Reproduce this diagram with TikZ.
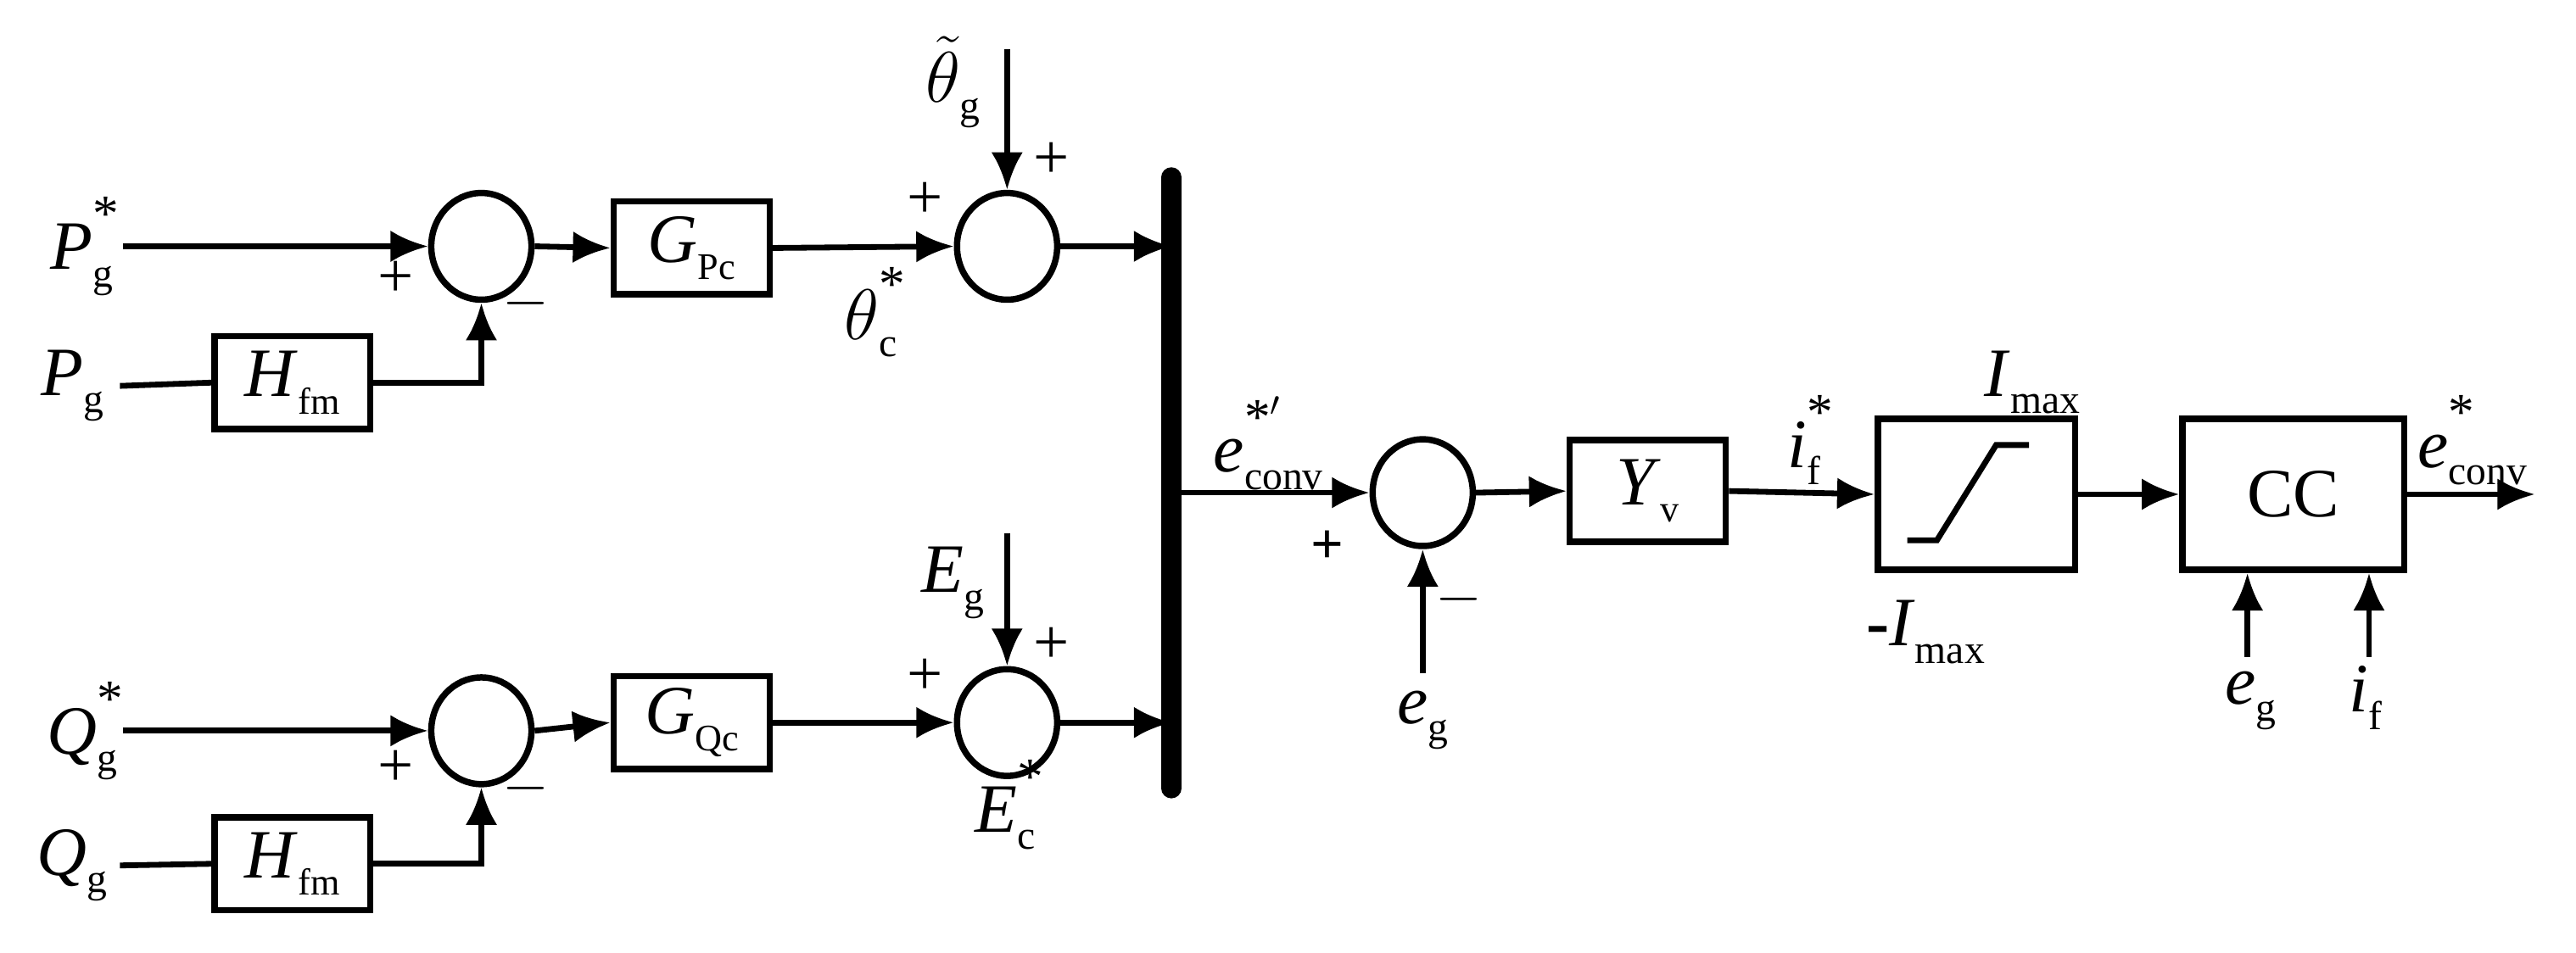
\documentclass[tikz,border=0pt]{standalone}
\usepackage{fontspec}
\setmainfont{Liberation Serif}
\usetikzlibrary{arrows.meta,positioning,shapes.geometric}
\newcommand{\sig}[3]{\textit{#1}\makebox[0pt][l]{\raisebox{0.55em}{\fontsize{18}{18}\selectfont #3}}\raisebox{-0.25em}{\fontsize{14}{14}\selectfont #2}}

\begin{document}
\begin{tikzpicture}[
  x=0.02cm, y=-0.02cm,
  >={Latex[length=13pt,width=11pt]},
  line width=2pt,
  font=\fontsize{24}{28}\selectfont,
  blk/.style={draw, line width=2.2pt, minimum width=1.9cm, minimum height=1.13cm, inner sep=0pt},
  sum/.style={draw, line width=2.2pt, ellipse, minimum width=1.22cm, minimum height=1.3cm, inner sep=0pt},
  lbl/.style={inner sep=1pt},
  sgn/.style={inner sep=0pt, font=\fontsize{22}{22}\selectfont}
]
\useasboundingbox (0,0) rectangle (1568,580);

% upper branch
\node[lbl] (Pref) at (50,150) {\sig{P}{g}{*}};
\node[lbl] (Pmeas) at (44,235) {\sig{P}{g}{}};
\node[sum] (S1) at (293,150) {};
\node[blk] (H1) at (178,233) {\textit{H}\raisebox{-0.25em}{\fontsize{13}{13}\selectfont fm}};
\node[blk] (Gp) at (421,151) {\textit{G}\raisebox{-0.25em}{\fontsize{13}{13}\selectfont Pc}};
\node[sum] (S2) at (613,150) {};
\node[lbl] (thg) at (580,50) {\sig{$\tilde{\theta}$}{g}{}};
\coordinate (thgin) at (613,30);
\draw[->] (Pref.east -| 75,150) -- (S1.west);
\draw (Pmeas.east -| 73,233) -- (H1.west);
\draw[->] (H1.east) -| (S1.south);
\draw[->] (S1.east) -- (Gp.west);
\draw[->] (Gp.east) -- (S2.west);
\draw[->] (thgin) -- (S2.north);
\node[sgn] at (241,170) {+};
\node[sgn] at (320,185) {$-$};
\node[sgn] at (563,122) {+};
\node[sgn] at (640,98) {+};
\node[lbl] at (530,190) {\sig{$\theta$}{c}{*}};

% lower branch
\node[lbl] (Qref) at (50,445) {\sig{Q}{g}{*}};
\node[lbl] (Qmeas) at (44,527) {\sig{Q}{g}{}};
\node[sum] (S3) at (293,445) {};
\node[blk] (H2) at (178,526) {\textit{H}\raisebox{-0.25em}{\fontsize{13}{13}\selectfont fm}};
\node[blk] (Gq) at (421,440) {\textit{G}\raisebox{-0.25em}{\fontsize{13}{13}\selectfont Qc}};
\node[sum] (S4) at (613,440) {};
\node[lbl] (Eg) at (580,355) {\sig{E}{g}{}};
\coordinate (Egin) at (613,325);
\draw[->] (Qref.east -| 75,445) -- (S3.west);
\draw (Qmeas.east -| 73,526) -- (H2.west);
\draw[->] (H2.east) -| (S3.south);
\draw[->] (S3.east) -- (Gq.west);
\draw[->] (Gq.east) -- (S4.west);
\draw[->] (Egin) -- (S4.north);
\node[sgn] at (241,468) {+};
\node[sgn] at (320,480) {$-$};
\node[sgn] at (563,412) {+};
\node[sgn] at (640,393) {+};
\node[lbl] at (612,490) {\sig{E}{c}{*}};

% combining bar
\coordinate (barT) at (713,108);
\coordinate (barB) at (713,480);
\draw[line width=7pt, line cap=round] (barT) -- (barB);
\draw[->] (S2.east) -- (S2.east -| barT);
\draw[->] (S4.east) -- (S4.east -| barT);

% current path
\node[sum] (S5) at (866,300) {};
\node[blk, minimum width=1.9cm, minimum height=1.24cm] (Yv) at (1003,299) {\textit{Y}\raisebox{-0.25em}{\fontsize{13}{13}\selectfont v}};
\node[blk, minimum width=2.4cm, minimum height=1.84cm] (Lim) at (1203,301) {};
\node[blk, minimum width=2.7cm, minimum height=1.84cm] (CC) at (1396,301) {CC};
\coordinate (egin) at (866,410);
\coordinate (out) at (1543,301);
\coordinate (ccin1) at (1368,400);
\coordinate (ccin2) at (1442,400);
\draw (Lim.center) ++(-42,28) -- ++(18,0) -- ++(36,-58) -- ++(20,0);
\draw[->] (S5.west -| barT) -- (S5.west);
\draw[->] (egin) -- (S5.south);
\draw[->] (S5.east) -- (Yv.west);
\draw[->] (Yv.east) -- (Lim.west);
\draw[->] (Lim.east) -- (CC.west);
\draw[->] (CC.east) -- (out);
\draw[->] (ccin1) -- (CC.south -| ccin1);
\draw[->] (ccin2) -- (CC.south -| ccin2);
\node[lbl] at (772,270) {\sig{e}{conv}{*$'$}};
\node[sgn, font=\fontsize{20}{20}\bfseries] at (808,333) {+};
\node[sgn] at (888,365) {$-$};
\node[lbl] at (866,437) {\sig{e}{g}{}};
\node[lbl] at (1098,268) {\sig{i}{f}{*}};
\node[lbl] at (1237,233) {\textit{I}\raisebox{-0.25em}{\fontsize{14}{14}\selectfont max}};
\node[lbl] at (1172,385) {\textbf{-}\textit{I}\raisebox{-0.25em}{\fontsize{14}{14}\selectfont max}};
\node[lbl] at (1505,268) {\sig{e}{conv}{*}};
\node[lbl] at (1370,425) {\sig{e}{g}{}};
\node[lbl] at (1440,425) {\sig{i}{f}{}};
\end{tikzpicture}
\end{document}
